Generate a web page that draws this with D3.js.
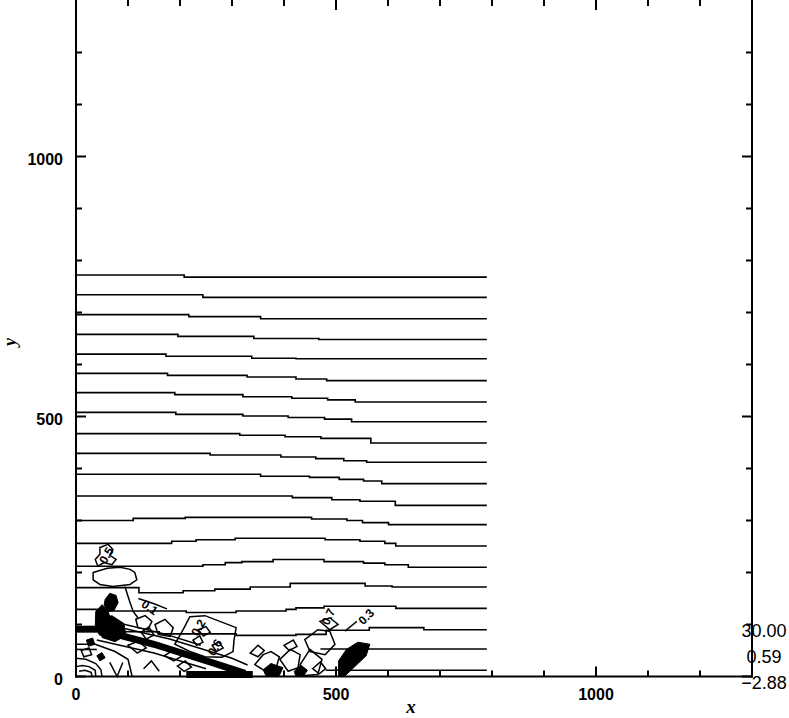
<!DOCTYPE html>
<html><head><meta charset="utf-8">
<script src="https://cdn.jsdelivr.net/npm/d3@7"></script>
<style>body{margin:0;background:#fff}svg{display:block}</style>
</head><body>
<svg id="c" width="789" height="718"></svg>
<script>
// ---------- data (axis units) ----------
const majorTicks = [0, 500, 1000];
const minorTicks = [100, 200, 300, 400, 600, 700, 800, 900, 1100, 1200];
const tickLabels = ["0", "500", "1000"];
const legendLabels = ["30.00", "0.59", "\u22122.88"];

// nearly horizontal contour lines (step form: value holds until next x)
const contourLines = [
  [[0,772],[208,768],[790,768]],
  [[0,734],[244,729],[790,729]],
  [[0,696],[217,692],[355,688],[790,688]],
  [[0,658],[196,654],[342,650],[467,648],[790,648]],
  [[0,620],[173,616],[338,612],[423,611],[790,611]],
  [[0,583],[176,579],[329,576],[423,572],[482,569],[790,569]],
  [[0,546],[190,542],[321,538],[415,535],[484,532],[537,528],[790,528]],
  [[0,508],[192,504],[321,501],[408,498],[478,495],[530,490],[790,490]],
  [[0,467],[315,464],[402,461],[471,458],[567,449],[790,449]],
  [[0,429],[258,426],[394,422],[461,419],[515,415],[559,412],[790,412]],
  [[0,389],[355,385],[449,383],[506,379],[553,376],[588,371],[790,371]],
  [[0,347],[416,344],[492,340],[546,337],[614,329],[790,329]],
  [[0,300],[110,304],[210,306],[453,303],[521,300],[551,296],[601,292],[790,292]],
  [[0,256],[184,260],[231,263],[306,266],[479,263],[546,260],[594,256],[615,251],[790,251]],
  [[0,212],[244,215],[287,219],[319,221],[379,225],[477,221],[553,218],[594,215],[639,210],[790,210]],
  [[0,171],[121,161],[206,165],[267,168],[335,172],[412,179],[556,174],[608,172],[790,172]],
  [[0,129],[40,126],[212,123],[308,126],[404,129],[423,132],[477,135],[615,131],[790,131]],
  [[0,90],[58,86],[160,82],[308,79],[423,81],[481,89],[564,94],[669,90],[790,90]],
  [[0,52],[40,52]],
  [[470,53],[790,53]],
  [[480,12],[790,12]]
];

// dense bunched contours drawn as heavy strokes
const denseBands = [
  [[0,91],[58,91]],
  [[56,87],[150,62],[267,25],[325,6]],
  [[212,4],[340,4]]
];

// closed small contour loops near the bottom
const contourLoops = [
  [[46,248],[62,254],[71,244],[65,233],[77,225],[69,215],[54,219],[42,212],[37,225],[46,235]],
  [[33,200],[60,208],[85,210],[104,206],[113,200],[117,186],[104,177],[71,173],[46,177],[33,186]],
  [[219,115],[248,117],[308,94],[304,71],[302,48],[281,37],[248,38],[219,48],[190,62],[206,90]],
  [[115,110],[133,117],[146,106],[138,90],[119,94]],
  [[152,100],[171,110],[187,94],[181,77],[158,81]],
  [[235,90],[250,96],[258,85],[245,78]],
  [[262,60],[275,66],[283,55],[270,48]],
  [[225,70],[238,78],[244,66],[232,60]],
  [[100,60],[120,68],[135,55],[118,45]],
  [[125,85],[140,95],[150,80],[135,72]],
  [[170,40],[190,52],[205,40],[188,30]],
  [[195,20],[210,30],[222,18],[208,10]],
  [[344,23],[360,42],[375,48],[391,38],[385,17],[365,10]],
  [[392,33],[412,52],[431,42],[427,17],[408,10]],
  [[335,45],[350,60],[362,50],[350,38]],
  [[400,60],[418,70],[425,58],[410,50]],
  [[440,71],[465,90],[488,87],[498,62],[479,42],[450,48]],
  [[431,23],[450,52],[473,33],[465,4],[440,2]],
  [[455,15],[470,28],[480,15],[468,5]],
  [[469,106],[488,113],[504,100],[488,90]],
  [[10,50],[25,55],[30,42],[15,38]]
];

// open contour fragments
const contourPieces = [
  [[94,173],[104,142],[110,125],[119,113]],
  [[6,10],[17,12],[29,8],[31,0]],
  [[0,19],[12,21],[25,19],[37,12],[38,0]],
  [[0,35],[19,33],[38,25],[48,13],[50,0]],
  [[65,27],[79,0],[90,27]],
  [[0,62],[37,62],[75,48],[100,33],[108,0]],
  [[60,100],[180,72],[300,35],[330,22]],
  [[60,108],[170,82],[240,60]],
  [[40,70],[150,45],[250,15]],
  [[517,87],[540,106]],
  [[120,150],[150,140],[175,130]],
  [[130,15],[145,30],[160,10]]
];

// filled dark patches (very dense contours)
const darkPatches = [
  [[56,148],[65,160],[77,156],[81,142],[73,127],[62,125],[54,137]],
  [[38,125],[50,138],[62,125],[69,100],[65,81],[46,79],[37,94]],
  [[46,110],[69,117],[92,102],[96,79],[75,67],[50,75]],
  [[20,70],[32,74],[36,62],[24,58]],
  [[40,40],[50,46],[56,36],[46,30]],
  [[360,13],[375,25],[398,17],[391,2],[365,2]],
  [[420,10],[432,22],[445,12],[438,2],[422,2]],
  [[505,30],[520,52],[542,66],[565,62],[558,40],[535,18],[518,2],[505,2]]
];

// contour value labels
const contourLabels = [
  {t:"0.5", x:58,  y:233, a:-60},
  {t:"0.1", x:142, y:133, a:35},
  {t:"0.2", x:235, y:94,  a:-60},
  {t:"0.6", x:267, y:56,  a:-60},
  {t:"0.7", x:485, y:115, a:-65},
  {t:"0.3", x:558, y:115, a:-45}
];

// ---------- drawing ----------
const svg = d3.select("#c");
const x = d3.scaleLinear().domain([0,1300]).range([76,752]);
const y = d3.scaleLinear().domain([0,1300]).range([676.5,0.5]);
const FONT = "'Liberation Sans', Arial, sans-serif";

const stepLine = d3.line().x(d=>x(d[0])).y(d=>y(d[1])).curve(d3.curveStepAfter);
const plainLine = d3.line().x(d=>x(d[0])).y(d=>y(d[1]));
const closedLine = d3.line().x(d=>x(d[0])).y(d=>y(d[1])).curve(d3.curveLinearClosed);

const g = svg.append("g");
g.selectAll("path.cl").data(contourLines).join("path")
  .attr("d", stepLine).attr("fill","none").attr("stroke","#000").attr("stroke-width",1.6);
g.selectAll("path.band").data(denseBands).join("path")
  .attr("d", plainLine).attr("fill","none").attr("stroke","#000").attr("stroke-width",7);
g.selectAll("path.loop").data(contourLoops).join("path")
  .attr("d", closedLine).attr("fill","none").attr("stroke","#000").attr("stroke-width",1.5);
g.selectAll("path.piece").data(contourPieces).join("path")
  .attr("d", plainLine).attr("fill","none").attr("stroke","#000").attr("stroke-width",1.5);
g.selectAll("path.patch").data(darkPatches).join("path")
  .attr("d", closedLine).attr("fill","#000").attr("stroke","#000").attr("stroke-width",1);
g.selectAll("text.lab").data(contourLabels).join("text")
  .attr("transform", d=>`translate(${x(d.x)},${y(d.y)}) rotate(${d.a})`)
  .attr("text-anchor","middle").attr("dy","0.35em")
  .attr("font-family",FONT).attr("font-weight","bold").attr("font-size",12).attr("fill","#000")
  .text(d=>d.t);

// frame
const ax = svg.append("g").attr("stroke","#000").attr("stroke-width",2);
ax.append("line").attr("x1",x(0)).attr("x2",x(0)).attr("y1",0).attr("y2",y(0)+1);
ax.append("line").attr("x1",x(1300)).attr("x2",x(1300)).attr("y1",0).attr("y2",y(0)+1);
ax.append("line").attr("x1",x(0)-1).attr("x2",x(1300)+1).attr("y1",y(0)).attr("y2",y(0));

const ticks = majorTicks.map(v=>({v,len:10})).concat(minorTicks.map(v=>({v,len:6})));
const tg = svg.append("g").attr("stroke","#000").attr("stroke-width",2);
tg.selectAll("line.l").data(ticks).join("line").attr("class","l")
  .attr("x1",x(0)).attr("x2",d=>x(0)+d.len).attr("y1",d=>y(d.v)).attr("y2",d=>y(d.v));
tg.selectAll("line.r").data(ticks).join("line").attr("class","r")
  .attr("x1",x(1300)).attr("x2",d=>x(1300)-d.len).attr("y1",d=>y(d.v)).attr("y2",d=>y(d.v));
tg.selectAll("line.b").data(ticks).join("line").attr("class","b")
  .attr("x1",d=>x(d.v)).attr("x2",d=>x(d.v)).attr("y1",y(0)).attr("y2",d=>y(0)-d.len);
tg.selectAll("line.t").data(ticks).join("line").attr("class","t")
  .attr("x1",d=>x(d.v)).attr("x2",d=>x(d.v)).attr("y1",0).attr("y2",d=>d.len);

// tick labels
svg.append("g").selectAll("text").data(majorTicks).join("text")
  .attr("x",63).attr("y",d=>y(d)+8).attr("text-anchor","end")
  .attr("font-family",FONT).attr("font-weight","bold").attr("font-size",16).text((d,i)=>tickLabels[i]);
svg.append("g").selectAll("text").data(majorTicks).join("text")
  .attr("x",d=>x(d)).attr("y",700).attr("text-anchor","middle")
  .attr("font-family",FONT).attr("font-weight","bold").attr("font-size",16).text((d,i)=>tickLabels[i]);

// axis titles
svg.append("text").attr("x",411).attr("y",713).attr("text-anchor","middle")
  .attr("font-family","'Liberation Serif', serif").attr("font-style","italic").attr("font-weight","bold")
  .attr("font-size",19).text("x");
svg.append("text").attr("transform","translate(16,342) rotate(-90)").attr("text-anchor","middle")
  .attr("font-family","'Liberation Serif', serif").attr("font-style","italic").attr("font-weight","bold")
  .attr("font-size",18).text("y");

// contour range legend at lower right
const legendBase = [637, 663, 689];
svg.append("g").selectAll("text").data(legendLabels).join("text")
  .attr("x",764).attr("y",(d,i)=>legendBase[i]).attr("text-anchor","middle")
  .attr("font-family",FONT).attr("font-size",18).text(d=>d);
</script>
</body></html>
